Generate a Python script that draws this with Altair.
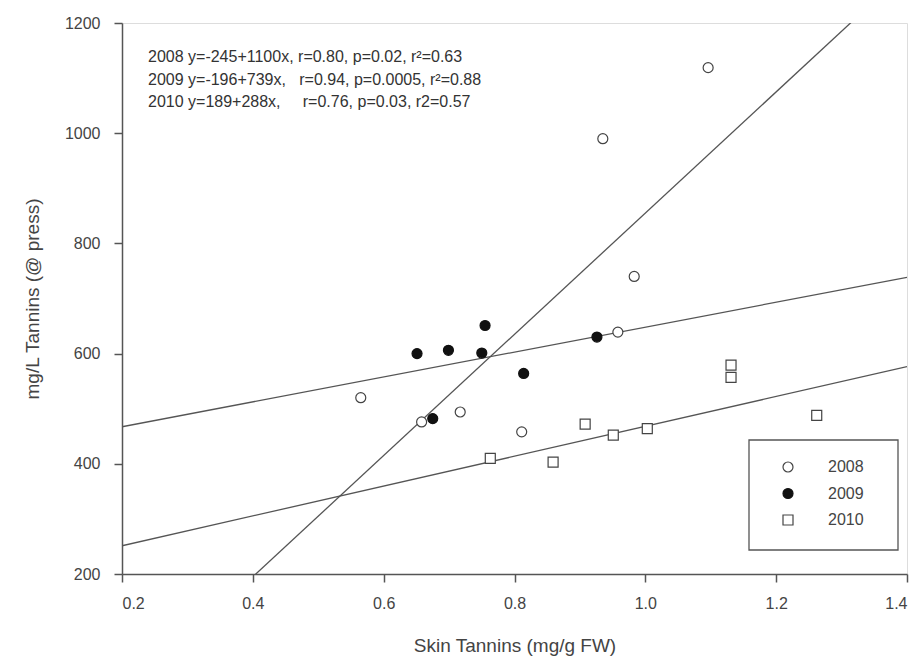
import altair as alt
import pandas as pd

# ---- data ----
years = ["2008", "2009", "2010"]
x2008 = [0.565, 0.658, 0.717, 0.811, 0.935, 0.958, 0.983, 1.096]
y2008 = [520, 476, 494, 458, 990, 639, 740, 1119]
x2009 = [0.651, 0.675, 0.699, 0.750, 0.755, 0.814, 0.926]
y2009 = [600, 482, 606, 601, 651, 564, 630]
x2010 = [0.763, 0.859, 0.908, 0.951, 1.003, 1.131, 1.131, 1.262]
y2010 = [410, 403, 472, 452, 464, 579, 557, 488]

# fitted lines as drawn in the figure (intercept, slope)
fit_intercept = [-245, 422, 197]
fit_slope = [1100, 226, 271]
x_range = [0.2, 1.4]

annotation = [
    "2008 y=-245+1100x, r=0.80, p=0.02, r\u00b2=0.63",
    "2009 y=-196+739x,\u00a0\u00a0\u00a0r=0.94, p=0.0005, r\u00b2=0.88",
    "2010 y=189+288x,\u00a0\u00a0\u00a0\u00a0\u00a0r=0.76, p=0.03, r2=0.57",
]

x_ticks = [0.2, 0.4, 0.6, 0.8, 1.0, 1.2, 1.4]
y_ticks = [200, 400, 600, 800, 1000, 1200]

# ---- tables ----
rows = []
for yr, xs, ys in zip(years, [x2008, x2009, x2010], [y2008, y2009, y2010]):
    for a, b in zip(xs, ys):
        rows.append({"year": yr, "x": a, "y": b})
pts = pd.DataFrame(rows)

lrows = []
for i, (b0, b1) in enumerate(zip(fit_intercept, fit_slope)):
    for xv in x_range:
        lrows.append({"fit": str(i), "x": xv, "y": b0 + b1 * xv})
lines = pd.DataFrame(lrows)

FONT = "Liberation Sans"
GRAY = "#555555"

xscale = alt.Scale(domain=[0.2, 1.4], nice=False, zero=False)
yscale = alt.Scale(domain=[200, 1200], nice=False, zero=False)

xaxis = alt.Axis(values=x_ticks, format=".1f", title="Skin Tannins (mg/g FW)",
                 grid=False, tickSize=8, labelPadding=13, titlePadding=25,
                 labelFontSize=16, titleFontSize=19, labelFont=FONT, titleFont=FONT,
                 labelColor="#444", titleColor="#444", domainColor=GRAY, tickColor=GRAY,
                 domainWidth=1.5, tickWidth=1.5, titleFontWeight="normal")
yaxis = alt.Axis(values=y_ticks, format="d", title="mg/L Tannins (@ press)",
                 grid=False, tickSize=8, labelPadding=14, titlePadding=22,
                 labelFontSize=16, titleFontSize=19, labelFont=FONT, titleFont=FONT,
                 labelColor="#444", titleColor="#444", domainColor=GRAY, tickColor=GRAY,
                 domainWidth=1.5, tickWidth=1.5, titleFontWeight="normal")

line_layer = alt.Chart(lines).mark_line(color=GRAY, strokeWidth=1.3, clip=True).encode(
    x=alt.X("x:Q", scale=xscale, axis=xaxis),
    y=alt.Y("y:Q", scale=yscale, axis=yaxis),
    detail="fit:N",
)

legend = alt.Legend(title=None, orient="none", legendX=658, legendY=436,
                    symbolStrokeWidth=1.2, symbolSize=100,
                    labelFontSize=16, labelFont=FONT, labelColor="#444",
                    labelOffset=32, rowPadding=10.5)

pt_layer = alt.Chart(pts).mark_point(filled=True, size=100, strokeWidth=1.2, opacity=1).encode(
    x=alt.X("x:Q", scale=xscale),
    y=alt.Y("y:Q", scale=yscale),
    fill=alt.Fill("year:N", scale=alt.Scale(domain=years, range=["white", "#111111", "white"]),
                  legend=legend),
    stroke=alt.Stroke("year:N", scale=alt.Scale(domain=years, range=["#444444", "#111111", "#444444"]),
                      legend=legend),
    shape=alt.Shape("year:N", scale=alt.Scale(domain=years, range=["circle", "circle", "square"]),
                    legend=legend),
)

legend_box = alt.Chart(alt.Data(values=[{}])).mark_rect(
    fill=None, stroke=GRAY, strokeWidth=1.3).encode(
    x=alt.value(627), x2=alt.value(776), y=alt.value(417), y2=alt.value(527))

text_layer = alt.Chart(pd.DataFrame({"t": ["\n".join(annotation)]})).mark_text(
    align="left", baseline="top", lineBreak="\n", lineHeight=22.5,
    font=FONT, fontSize=16, color="#333").encode(
    x=alt.value(26), y=alt.value(26), text="t:N")

chart = alt.layer(line_layer, pt_layer, legend_box, text_layer).properties(
    width=785, height=551,
    autosize=alt.AutoSizeParams(type="none"),
    padding={"left": 114, "top": 15, "right": 8, "bottom": 90},
).configure_view(stroke=GRAY, strokeWidth=1.5).configure(background="white")

chart.save("out.html", embed_options={"renderer": "svg", "actions": False})
